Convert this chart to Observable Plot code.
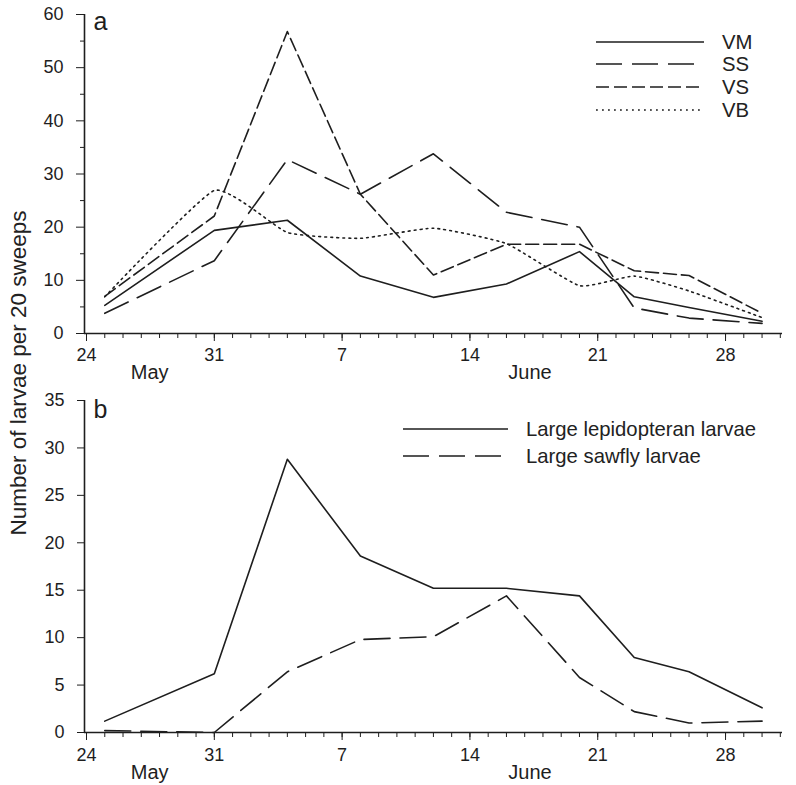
<!DOCTYPE html>
<html><head><meta charset="utf-8">
<script src="https://cdn.jsdelivr.net/npm/d3@7"></script>
<script src="https://cdn.jsdelivr.net/npm/@observablehq/plot@0.6"></script>
<style>
body{margin:0;background:#fff;}
#wrap{position:relative;width:796px;height:785px;font-family:"Liberation Sans",Arial,sans-serif;color:#222;overflow:hidden;}
#wrap > svg{position:absolute;left:0;display:block;}
.ytitle{position:absolute;left:19px;top:373px;transform:translate(-50%,-50%) rotate(-90deg);white-space:nowrap;font-size:22.5px;}
.leg{position:absolute;font-size:20.3px;}
.leg .row{position:absolute;left:0;white-space:nowrap;display:flex;align-items:center;}
.leg svg{display:block;}
</style></head><body><div id="wrap"></div>
<script>
// ---- data ----
const sampleDates = ["2010-05-25","2010-05-31","2010-06-04","2010-06-08","2010-06-12","2010-06-16","2010-06-20","2010-06-23","2010-06-26","2010-06-30"];
const VM = [5.3, 19.4, 21.3, 10.8, 6.8, 9.3, 15.4, 6.9, 4.9, 2.3];
const SS = [3.8, 13.7, 32.7, 26.2, 33.8, 22.8, 20.0, 4.8, 2.9, 1.9];
const VS = [7.0, 22.1, 56.8, 26.2, 11.0, 16.8, 16.8, 11.8, 10.9, 3.8];
const VB = [6.9, 26.9, 19.0, 17.9, 19.8, 16.9, 9.0, 10.8, 8.0, 3.0];
const lepidopteran = [1.2, 6.2, 28.8, 18.6, 15.2, 15.2, 14.4, 7.9, 6.4, 2.6];
const sawfly = [0.2, 0.0, 6.4, 9.8, 10.1, 14.4, 5.8, 2.2, 1.0, 1.2];
const seriesA = ["VM","SS","VS","VB"];
const seriesB = ["Large lepidopteran larvae","Large sawfly larvae"];
const majorTickDates = ["2010-05-24","2010-05-31","2010-06-07","2010-06-14","2010-06-21","2010-06-28"];
const monthLabels = ["May","June"];
const monthLabelDates = ["2010-05-27T11:00Z","2010-06-17T07:00Z"];
const yTicksA = [0,10,20,30,40,50,60];
const yMinorA = [5,15,25,35,45,55];
const yTicksB = [0,5,10,15,20,25,30,35];
const yTitle = "Number of larvae per 20 sweeps";

// ---- build ----
const DAY = 864e5;
const t0 = Date.UTC(2010,4,24);
const xDomain = [new Date(t0 - 0.11*DAY), new Date(t0 + 38.12*DAY)];
const minorTicks = d3.utcDay.range(new Date(t0), new Date(t0 + 38.5*DAY));
const majorTicks = majorTickDates.map(d => new Date(d));
const rowsA = sampleDates.map((d,i) => ({date:new Date(d), VM:VM[i], SS:SS[i], VS:VS[i], VB:VB[i]}));
const rowsB = sampleDates.map((d,i) => ({date:new Date(d), lep:lepidopteran[i], saw:sawfly[i]}));
const INK = "#1e1e1e";
const styles = {
  VM:{strokeDasharray:null},
  SS:{strokeDasharray:"26,10"},
  VS:{strokeDasharray:"13,5"},
  VB:{strokeDasharray:"1.8,4.2", curve:"cardinal", tension:0.55},
  "Large lepidopteran larvae":{strokeDasharray:null},
  "Large sawfly larvae":{strokeDasharray:"26,10"}
};

function xAxes(pad, monthDy){
  return [
    Plot.axisX({ticks:minorTicks, tickSize:5, tickFormat:()=>"", label:null, stroke:INK}),
    Plot.axisX({ticks:majorTicks, tickSize:8, tickPadding:pad, tickFormat:d=>String(d.getUTCDate()), fontSize:18, fill:INK, stroke:INK, label:null}),
    Plot.ruleY([0], {stroke:INK, strokeWidth:1.6}),
    Plot.ruleX([xDomain[0]], {stroke:INK, strokeWidth:1.6}),
    Plot.text(monthLabels, {x:monthLabelDates.map(d=>new Date(d)), frameAnchor:"bottom", dy:monthDy, fontSize:20, textAnchor:"middle", fill:INK})
  ];
}

const common = {width:796, marginLeft:84, marginRight:14,
  x:{type:"utc", domain:xDomain}, style:{fontFamily:'"Liberation Sans",Arial,sans-serif', fontSize:"18px", color:INK, background:"transparent", overflow:"visible"}};

const plotA = Plot.plot({...common, height:385, marginTop:14, marginBottom:52,
  y:{domain:[0,60]},
  marks:[
    Plot.axisY({ticks:yTicksA, tickSize:8, tickPadding:13, fontSize:18, fill:INK, stroke:INK, label:null}),
    Plot.axisY({ticks:yMinorA, tickSize:4, tickFormat:()=>"", stroke:INK, label:null}),
    ...xAxes(7, 45),
    ...seriesA.map(s => Plot.line(rowsA, {x:"date", y:s, stroke:INK, strokeWidth:1.6, ...styles[s]})),
    Plot.text(["a"], {frameAnchor:"top-left", dx:9, dy:-2.7, fontSize:25, textAnchor:"start", fill:INK})
  ]});

const plotB = Plot.plot({...common, height:400, marginTop:15, marginBottom:53,
  y:{domain:[0,35]},
  marks:[
    Plot.axisY({ticks:yTicksB, tickSize:7, tickPadding:13, fontSize:18, fill:INK, stroke:INK, label:null}),
    ...xAxes(8, 46),
    Plot.line(rowsB, {x:"date", y:"lep", stroke:INK, strokeWidth:1.6, ...styles[seriesB[0]]}),
    Plot.line(rowsB, {x:"date", y:"saw", stroke:INK, strokeWidth:1.6, ...styles[seriesB[1]]}),
    Plot.text(["b"], {frameAnchor:"top-left", dx:9, dy:0, fontSize:25, textAnchor:"start", fill:INK})
  ]});

const wrap = document.getElementById("wrap");
plotA.style.top = "0px";
plotB.style.top = "385px";
wrap.appendChild(plotA);
wrap.appendChild(plotB);

const yt = document.createElement("div");
yt.className = "ytitle"; yt.textContent = yTitle;
wrap.appendChild(yt);

function legend(names, left, top, spacing, lineW, textGap){
  const box = document.createElement("div");
  box.className = "leg"; box.style.left = left+"px"; box.style.top = top+"px";
  names.forEach((n,i) => {
    const row = document.createElement("div");
    row.className = "row"; row.style.top = (i*spacing - 12)+"px"; row.style.height = "24px";
    const st = styles[n];
    const ns = "http://www.w3.org/2000/svg";
    const svg = document.createElementNS(ns,"svg");
    svg.setAttribute("width", lineW); svg.setAttribute("height", 24);
    const ln = document.createElementNS(ns,"line");
    ln.setAttribute("x1",0); ln.setAttribute("x2",lineW); ln.setAttribute("y1",12); ln.setAttribute("y2",12);
    ln.setAttribute("stroke",INK); ln.setAttribute("stroke-width",1.6);
    if (st.strokeDasharray) ln.setAttribute("stroke-dasharray", st.strokeDasharray);
    svg.appendChild(ln);
    const tx = document.createElement("span");
    tx.textContent = n; tx.style.marginLeft = textGap+"px"; tx.style.lineHeight="24px";
    row.appendChild(svg); row.appendChild(tx);
    box.appendChild(row);
  });
  wrap.appendChild(box);
}
legend(seriesA, 596, 41.7, 22.7, 108, 18);
legend(seriesB, 403, 428.5, 27.5, 105, 18);
</script></body></html>
